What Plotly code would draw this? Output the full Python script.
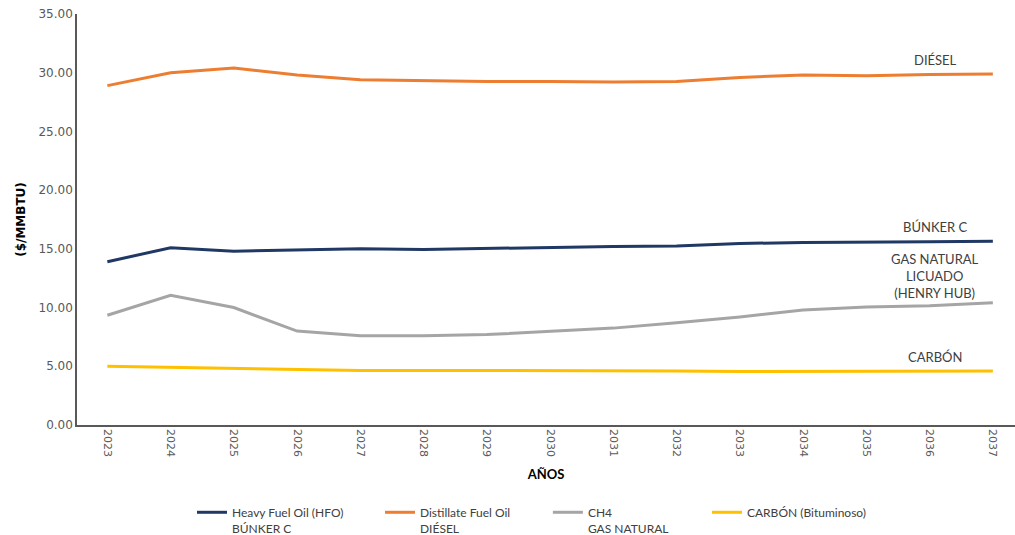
import plotly.graph_objects as go

years = [str(y) for y in range(2023, 2038)]

hfo_bunker = [13.9, 15.1, 14.8, 14.9, 15.0, 14.95, 15.05, 15.15, 15.2, 15.25, 15.45, 15.55, 15.55, 15.6, 15.65]
diesel = [28.9, 30.0, 30.4, 29.8, 29.4, 29.3, 29.25, 29.25, 29.2, 29.25, 29.6, 29.8, 29.75, 29.85, 29.9]
gas_natural = [9.35, 11.05, 10.0, 8.0, 7.6, 7.6, 7.7, 7.95, 8.25, 8.7, 9.2, 9.8, 10.05, 10.15, 10.4]
carbon = [5.0, 4.9, 4.8, 4.7, 4.65, 4.65, 4.65, 4.65, 4.6, 4.6, 4.55, 4.55, 4.55, 4.55, 4.6]

series = [
    ("Heavy Fuel Oil (HFO)<br>BÚNKER C", hfo_bunker, "#203864"),
    ("Distillate Fuel Oil<br>DIÉSEL", diesel, "#ED7D31"),
    ("CH4<br>GAS NATURAL", gas_natural, "#A5A5A5"),
    ("CARBÓN (Bituminoso)", carbon, "#FFC000"),
]

end_labels = [
    ("DIÉSEL", 31.1),
    ("BÚNKER C", 16.85),
    ("GAS NATURAL<br>LICUADO<br>(HENRY HUB)", 12.65),
    ("CARBÓN", 5.8),
]

# one legend box per series so each entry sits at its own spot under the chart
legend_x = [0.1226, 0.323, 0.502, 0.6716]
legend_ids = ["legend", "legend2", "legend3", "legend4"]

fig = go.Figure()
for (name, vals, color), lid in zip(series, legend_ids):
    fig.add_trace(go.Scatter(
        x=years, y=vals, name=name, mode="lines",
        line=dict(color=color, width=3), legend=lid,
    ))

label_font = dict(family="Lato, 'Open Sans', sans-serif", size=13, color="#404040")
for text, yv in end_labels:
    fig.add_annotation(
        x=0.915, xref="paper", y=yv, yref="y", text=text,
        showarrow=False, font=label_font, align="center",
        xanchor="center", yanchor="middle",
    )

legend_font = dict(family="Lato, 'Open Sans', sans-serif", size=12, color="#404040")
legends = {}
for lid, lx in zip(legend_ids, legend_x):
    legends[lid] = dict(
        orientation="h", x=lx, xref="paper", xanchor="left",
        y=0.0692, yref="container", yanchor="top",
        font=legend_font, valign="top", itemwidth=30,
        bgcolor="rgba(0,0,0,0)",
    )

fig.update_layout(
    width=1015, height=535,
    margin=dict(l=77, r=0, t=14, b=110, autoexpand=False),
    paper_bgcolor="white", plot_bgcolor="white",
    showlegend=True,
    xaxis=dict(
        type="category", range=[-0.48, 14.35], automargin=False,
        showline=True, linecolor="#595959", linewidth=1.5,
        showgrid=False, ticks="", tickangle=90,
        tickfont=dict(family="DejaVu Sans, sans-serif", size=11, color="#595959"),
        title=dict(text="<b>AÑOS</b>", standoff=14,
                   font=dict(family="Lato, 'Open Sans', sans-serif", size=13, color="black")),
    ),
    yaxis=dict(
        range=[0, 35], dtick=5, tickformat=".2f", automargin=False,
        showline=True, linecolor="#595959", linewidth=1.5,
        showgrid=False, zeroline=False, ticks="",
        tickfont=dict(family="DejaVu Sans, sans-serif", size=12, color="#595959"),
        title=dict(text="<b>($/MMBTU)</b>", standoff=10,
                   font=dict(family="DejaVu Sans, sans-serif", size=12, color="black")),
    ),
    **legends,
)

fig.write_html("out.html")
